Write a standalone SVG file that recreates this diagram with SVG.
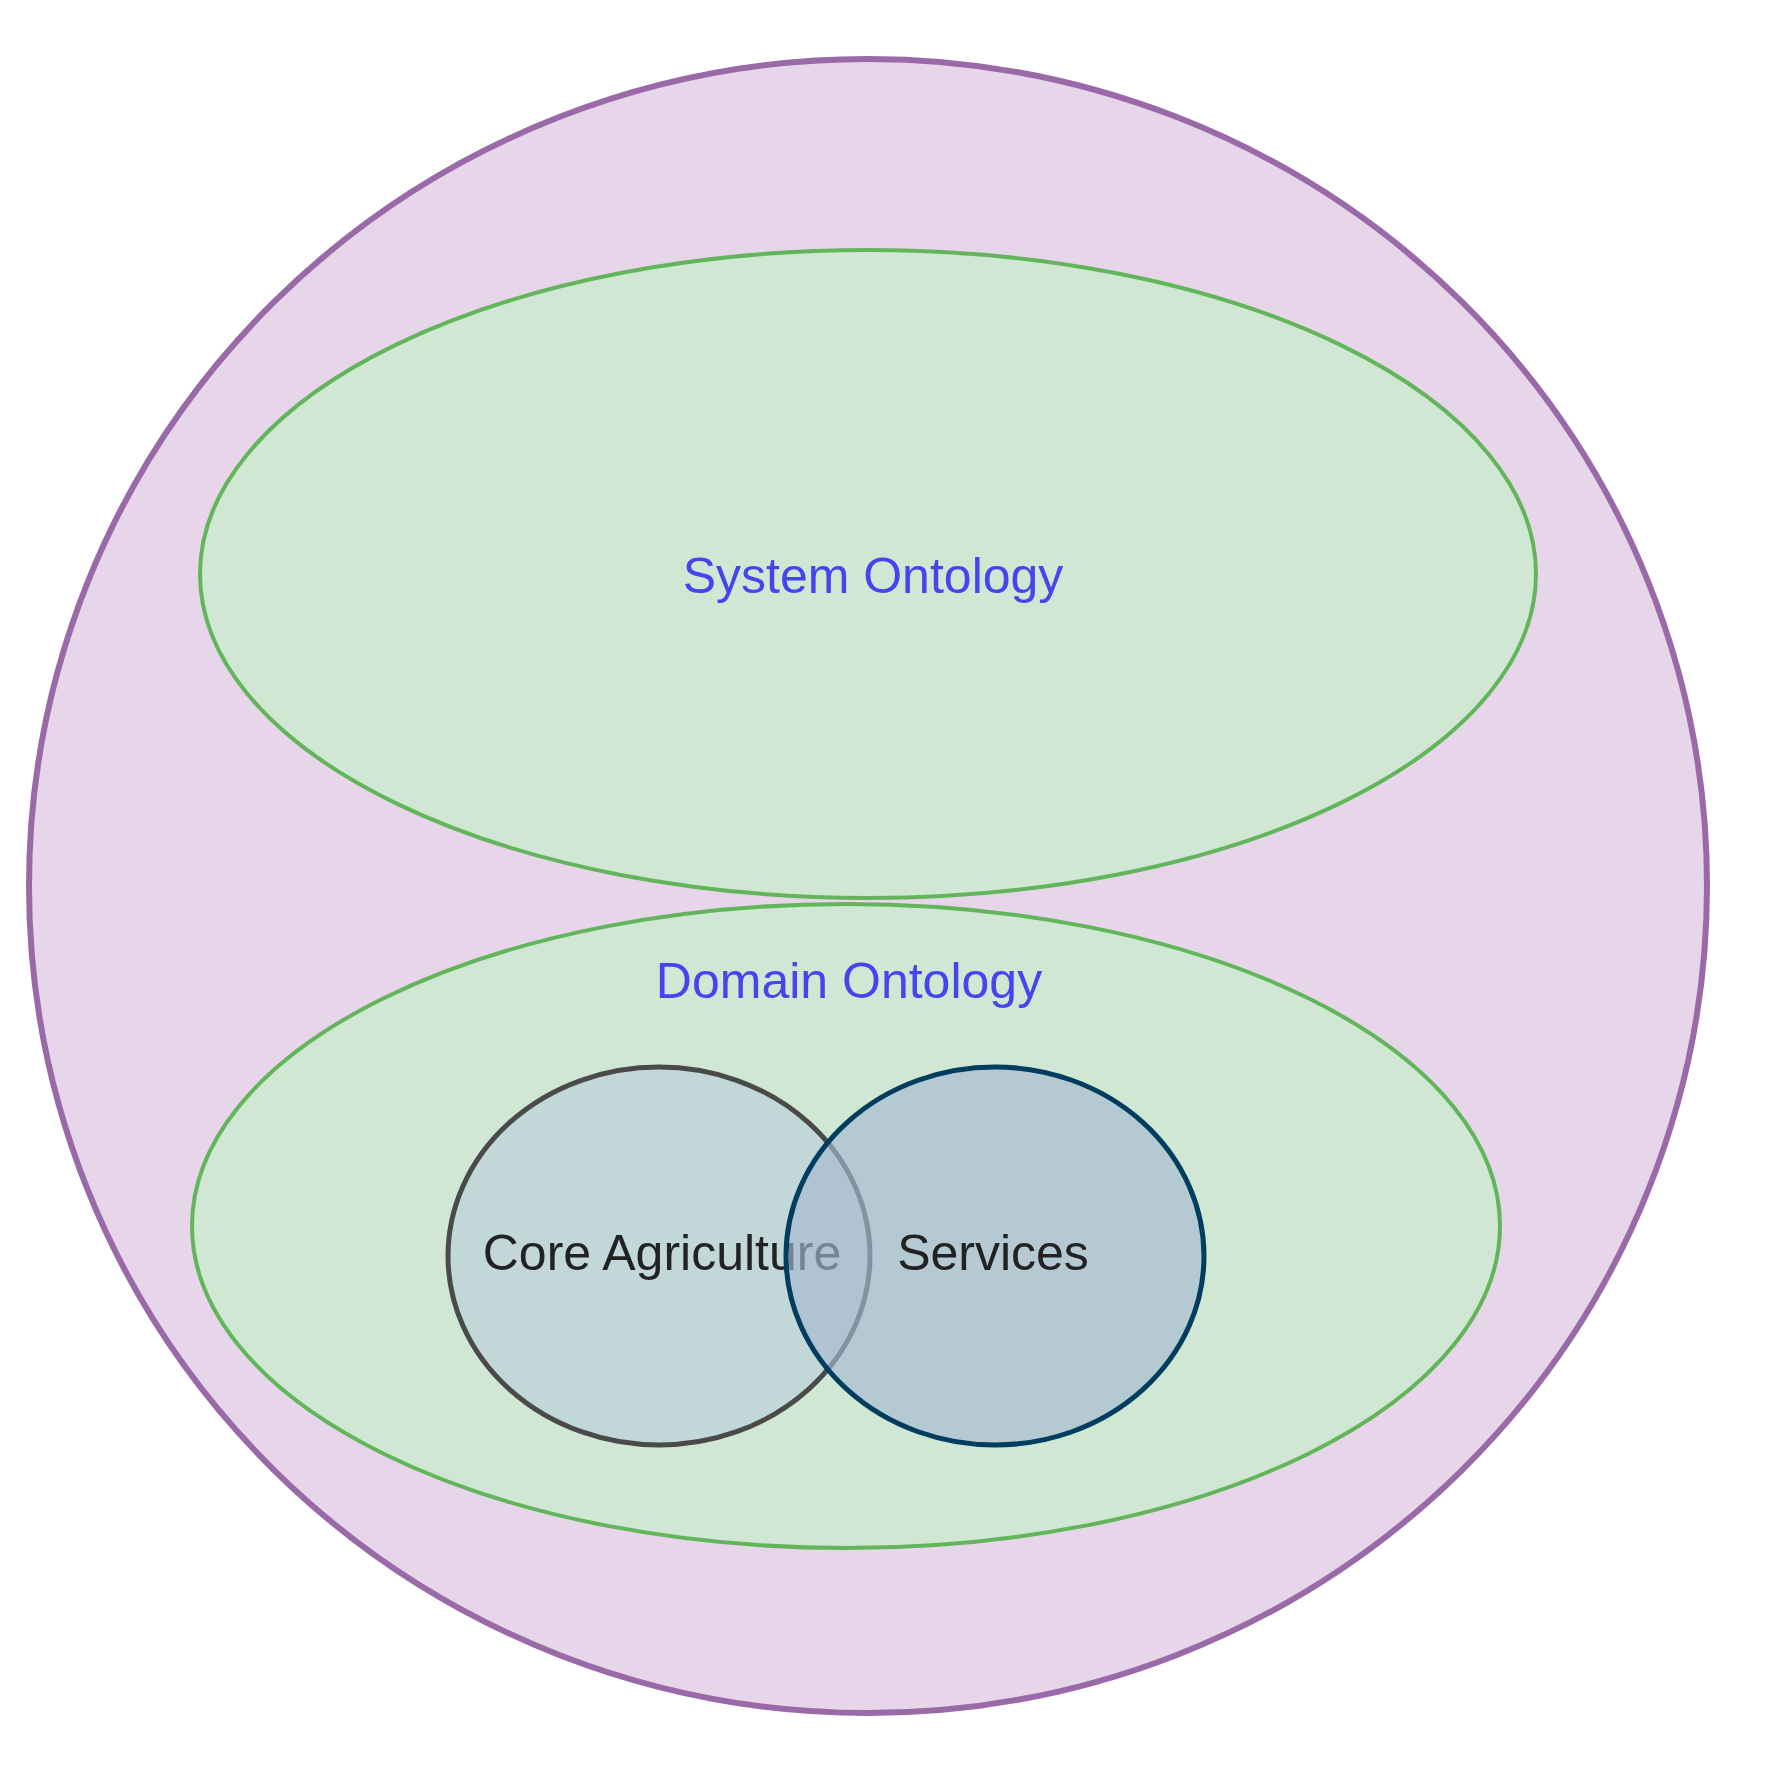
<svg xmlns="http://www.w3.org/2000/svg" width="1765" height="1774" viewBox="0 0 1765 1774">
<style>
.lbl{font-family:"Liberation Sans",Arial,sans-serif;font-size:50px;text-anchor:middle;dominant-baseline:central}
.blue{fill:#4545f0}
.dark{fill:#222}
.grn{fill:#d0e8d3;stroke:#63b55b;stroke-width:4}
</style>
<rect width="1765" height="1774" fill="#fff"/>
<g id="outer"><ellipse cx="868" cy="886" rx="839" ry="827" fill="#e7d6e9" stroke="#9a6aa8" stroke-width="6"/></g>
<g id="system"><ellipse class="grn" cx="868" cy="574" rx="668" ry="324"/><text class="lbl blue" x="873" y="576">System Ontology</text></g>
<g id="domain"><ellipse class="grn" cx="846" cy="1226" rx="654" ry="322"/><text class="lbl blue" x="849" y="981">Domain Ontology</text></g>
<g id="core"><ellipse cx="659" cy="1256" rx="211" ry="189" fill="#c2d8d8" stroke="#4a4a4a" stroke-width="5"/><text class="lbl dark" x="662" y="1253">Core Agriculture</text></g>
<g id="services"><ellipse cx="995" cy="1256" rx="209" ry="189" fill="#a4b8d0" fill-opacity="0.65" stroke="#003d5e" stroke-width="5"/><text class="lbl dark" x="993" y="1253">Services</text></g>
<g id="connectors"/>
</svg>
